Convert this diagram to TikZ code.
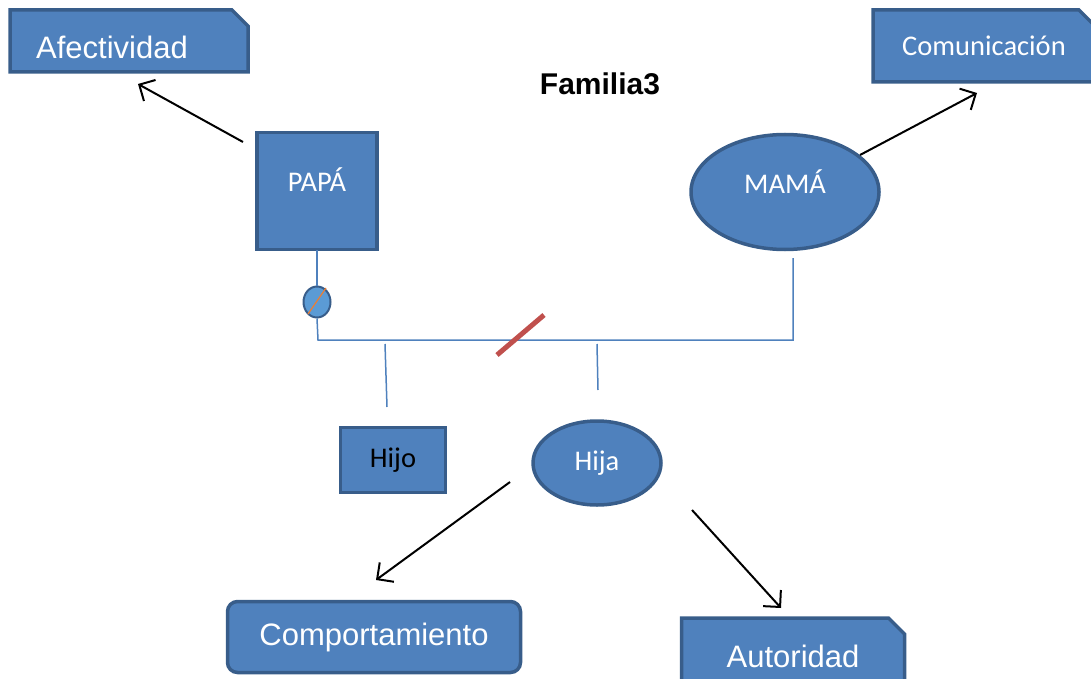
\documentclass[tikz,border=0pt]{standalone}
\usepackage{fontspec}
\setmainfont{Liberation Sans}
\newfontfamily\calfont{Carlito}
\usetikzlibrary{shapes.misc,shapes.geometric,arrows.meta}
\definecolor{fillb}{HTML}{4F81BD}
\definecolor{edgeb}{HTML}{385D8A}
\definecolor{lineb}{HTML}{4F81BD}
\definecolor{redl}{HTML}{C0504D}
\definecolor{smallf}{HTML}{5B9BD5}
\definecolor{orangel}{HTML}{ED7D31}
\tikzset{
  x=1pt,y=-1pt,
  box/.style={draw=edgeb,fill=fillb,line width=3.5pt,text=white,inner sep=0pt},
  snip/.style={box,chamfered rectangle,chamfered rectangle corners=north east,chamfered rectangle xsep=8pt,chamfered rectangle ysep=8pt},
  big/.style={font=\fontsize{31}{34}\selectfont},
  calf/.style={font=\calfont\fontsize{28.5}{30}\selectfont},
  lbl/.style={text=white,inner sep=0pt},
  conn/.style={draw=lineb,line width=1.5pt},
  arr/.style={draw=black,line width=2pt,-{Straight Barb[length=12pt,width=24pt,line width=2pt]}},
}
\begin{document}
\begin{tikzpicture}
\useasboundingbox (0,0) rectangle (1091,679);
% top boxes
\node[snip,big,minimum width=238pt,minimum height=62pt] (afe) at (129,41) {\phantom{Afectividad}};
\node[lbl,big] (afet) at (112,47) {Afectividad};
\node[snip,calf,minimum width=222pt,minimum height=72pt] (com) at (984,46) {Comunicación};
\node[font=\bfseries\fontsize{30}{32}\selectfont] (tit) at (600,84) {Familia3};
% parents
\node[box,rectangle,minimum width=120pt,minimum height=117pt] (papa) at (317,191) {};
\node[lbl,calf] (papat) at (317,180) {PAPÁ};
\node[box,ellipse,minimum width=188pt,minimum height=115pt] (mama) at (785,192) {};
\node[lbl,calf] (mamat) at (785,182) {MAMÁ};
\draw[arr] (243,142) -- (138,84);
\draw[arr] (860,155) -- (977,93);
% family lines
\coordinate (p1) at (317,250);
\node[draw=edgeb,fill=smallf,line width=2pt,ellipse,minimum width=27pt,minimum height=31pt,inner sep=0pt] (circ) at (317,302) {};
\draw[orangel,line width=1.2pt] (308,314) -- (326,288);
\coordinate (c1) at (318,340);
\coordinate (c2) at (793,340);
\coordinate (m1) at (793,258);
\draw[conn] (p1) -- (circ.north);
\draw[conn] (circ.south) -- (c1) -- (c2) -- (m1);
\coordinate (h1) at (385,344);
\coordinate (h2) at (387,407);
\coordinate (j1) at (597,344);
\coordinate (j2) at (598,390);
\draw[conn] (h1) -- (h2);
\draw[conn] (j1) -- (j2);
\coordinate (r1) at (497,355);
\coordinate (r2) at (544,315);
\draw[redl,line width=5pt] (r1) -- (r2);
% children
\node[box,rectangle,calf,text=black,minimum width=105pt,minimum height=65pt] (hijo) at (393,460) {Hijo};
\node[box,ellipse,calf,minimum width=128pt,minimum height=84pt] (hija) at (597,463) {Hija};
\coordinate (a1) at (510,482);
\coordinate (a2) at (376,580);
\coordinate (b1) at (692,510);
\coordinate (b2) at (781,608);
\draw[arr] (a1) -- (a2);
\draw[arr] (b1) -- (b2);
% bottom boxes
\node[box,rounded corners=10pt,big,minimum width=293pt,minimum height=71pt] (comp) at (374,637) {Comportamiento};
\node[snip,big,minimum width=223pt,minimum height=76pt] (aut) at (793,656) {Autoridad};
\end{tikzpicture}
\end{document}
